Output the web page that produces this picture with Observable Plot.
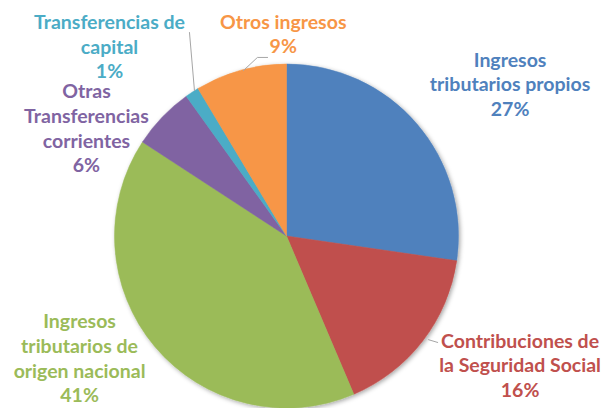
<!DOCTYPE html>
<html>
<head>
<meta charset="utf-8">
<script src="https://cdn.jsdelivr.net/npm/d3@7"></script>
<script src="https://cdn.jsdelivr.net/npm/@observablehq/plot@0.6"></script>
<style>
  html, body { margin: 0; padding: 0; background: #ffffff; }
  #chart { width: 603px; height: 408px; overflow: hidden; }
</style>
</head>
<body>
<div id="chart"></div>
<script>
// ---- data ----
const categories = [
  "Ingresos\ntributarios propios",
  "Contribuciones de\nla Seguridad Social",
  "Ingresos\ntributarios de\norigen nacional",
  "Otras\nTransferencias\ncorrientes",
  "Transferencias de\ncapital",
  "Otros ingresos"
];
const shares = [27.3, 16.3, 40.6, 5.9, 1.3, 8.6];
const colors = ["#4F81BD", "#C0504D", "#9BBB59", "#8064A2", "#4BACC6", "#F79646"];

// ---- layout (unit = pie radius, centre at 0,0) ----
const labelX = [1.297, 1.355, -1.206, -1.166, -1.032, -0.022];
const labelY = [0.890, -0.744, -0.703, 0.634, 1.108, 1.183];
const leaderPaths = [
  [[0.823, -0.600], [0.876, -0.616]],
  [[-0.538, 0.849], [-0.567, 1.186]],
  [[-0.253, 0.965], [-0.172, 1.041], [-0.113, 1.041]]
];

const W = 603, H = 408, R = 172, CX = 286.5, CY = 236;

const rows = categories.map((c, i) => ({
  name: c,
  share: shares[i],
  color: colors[i],
  label: c + "\n" + Math.round(shares[i]) + "%",
  lx: labelX[i],
  ly: labelY[i]
}));

const leaders = leaderPaths.flatMap((p, k) => p.map(([x, y]) => ({k, x, y})));

function pieMark(index, scales, values, dimensions, context) {
  const sx = scales.x, sy = scales.y;
  const cx = sx(0), cy = sy(0), r = sx(1) - sx(0);
  const arcs = d3.pie().sort(null).value(d => d.share)(rows);
  const arc = d3.arc().innerRadius(0).outerRadius(r);
  const g = d3.create("svg:g");
  const defs = g.append("defs");
  const f = defs.append("filter").attr("id", "pieShadow")
    .attr("x", "-10%").attr("y", "-10%").attr("width", "120%").attr("height", "120%");
  f.append("feDropShadow").attr("dx", 1.5).attr("dy", 1.5).attr("stdDeviation", 2)
    .attr("flood-color", "#000").attr("flood-opacity", 0.35);
  g.append("g")
    .attr("transform", `translate(${cx},${cy})`)
    .attr("filter", "url(#pieShadow)")
    .selectAll("path")
    .data(arcs)
    .join("path")
    .attr("d", arc)
    .attr("fill", d => d.data.color)
    .attr("stroke", d => d.data.color)
    .attr("stroke-width", 0.5);
  return g.node();
}

const plot = Plot.plot({
  width: W,
  height: H,
  margin: 0,
  x: {domain: [-CX / R, (W - CX) / R], range: [0, W], axis: null},
  y: {domain: [-(H - CY) / R, CY / R], range: [H, 0], axis: null},
  style: {background: "#ffffff", fontFamily: "Lato, 'Open Sans', sans-serif"},
  marks: [
    pieMark,
    Plot.line(leaders, {x: "x", y: "y", z: "k", stroke: "#a6a6a6", strokeWidth: 1}),
    Plot.text(rows, {
      x: "lx", y: "ly", text: "label", fill: "color",
      fontSize: 19.5, fontWeight: 700, lineHeight: 1.26,
      textAnchor: "middle"
    })
  ]
});

document.getElementById("chart").appendChild(plot);
</script>
</body>
</html>
